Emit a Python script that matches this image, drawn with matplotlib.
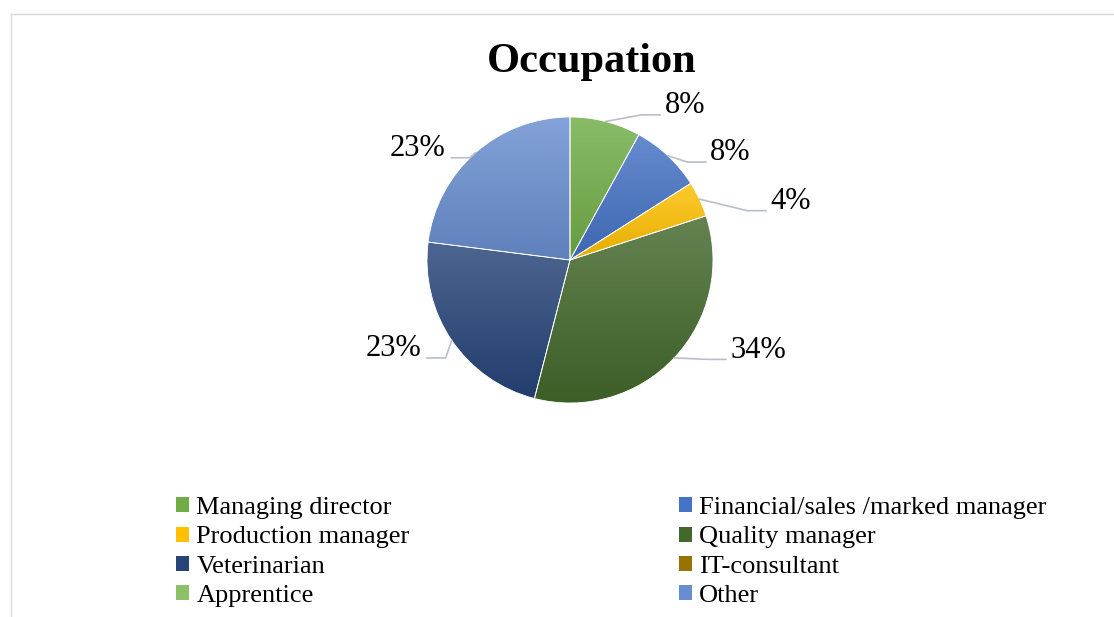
import numpy as np
import matplotlib.pyplot as plt
from matplotlib.colors import to_rgb
from matplotlib.patches import Patch
from matplotlib.lines import Line2D

occupations = ["Managing director", "Financial/sales /marked manager", "Production manager",
               "Quality manager", "Veterinarian", "IT-consultant", "Apprentice", "Other"]
shares = [8, 8, 4, 34, 23, 0, 0, 23]
colors = ["#70AD47", "#4472C4", "#FFC000", "#43682B", "#264478", "#997300", "#8CC168", "#698ED0"]
# where the % labels sit (in pie radii), like the excel "best fit" layout
label_pos = [(0.66, 1.08), (0.98, 0.75), (1.40, 0.41), (1.12, -0.63),
             (-1.04, -0.62), None, None, (-0.87, 0.78)]

plt.rcParams['font.family'] = ['Liberation Serif', 'DejaVu Serif']

W, H = 1114, 617
R = 143  # pie radius in px
fig = plt.figure(figsize=(W / 100, H / 100), dpi=100)

# light chart border (top + left)
fig.add_artist(Line2D([11 / W, 11 / W], [0, 1 - 14 / H], color='#D9D9D9', lw=1))
fig.add_artist(Line2D([11 / W, 1], [1 - 14 / H, 1 - 14 / H], color='#D9D9D9', lw=1))

ax = fig.add_axes([270 / W, (H - 460) / H, 600 / W, 400 / H])
wedges, _ = ax.pie(shares, colors=colors, startangle=90, counterclock=False, radius=1,
                   wedgeprops=dict(edgecolor='white', linewidth=0.6))


def lighten(c, f):
    c = np.array(to_rgb(c))
    return c + (1 - c) * f


# vertical gradient in each slice, lighter on top
g = np.linspace(0, 1, 256)[:, None, None]
for w, c, s in zip(wedges, colors, shares):
    if s == 0:
        continue
    ext = w.get_path().get_extents()
    top = lighten(c, 0.18)
    bot = np.array(to_rgb(c)) * 0.9
    img = top * (1 - g) + bot * g
    im = ax.imshow(img, extent=(ext.x0, ext.x1, ext.y0, ext.y1), origin='upper',
                   aspect='auto', zorder=2, interpolation='bilinear')
    im.set_clip_path(w)
    w.set_facecolor('none')
    w.set_zorder(3)

# percentage labels with leader lines
for w, s, pos in zip(wedges, shares, label_pos):
    if pos is None:
        continue
    mid = np.deg2rad((w.theta1 + w.theta2) / 2)
    sx, sy = np.cos(mid), np.sin(mid)
    tx, ty = pos
    right = tx > 0
    ex = tx - 0.03 if right else tx + 0.04
    ey = ty - 0.065
    elx = ex - 0.13 if right else ex + 0.13
    ax.plot([sx, elx, ex], [sy, ey, ey], color='#B8BFCA', lw=1.2, zorder=4, clip_on=False)
    ax.text(tx, ty, f"{s}%", ha='left' if right else 'right', va='center',
            fontsize=22, color='black', zorder=5, clip_on=False)

ax.set_aspect('equal')
ax.set_xlim(-300 / R, 300 / R)
ax.set_ylim(-200 / R, 200 / R)
ax.axis('off')

fig.text(592 / W, 1 - 62 / H, "Occupation", ha='center', va='center',
         fontsize=30.5, fontweight='bold')

# excel fills the legend row by row, matplotlib column by column
order = [0, 2, 4, 6, 1, 3, 5, 7]
handles = [Patch(facecolor=colors[i]) for i in order]
labels = [occupations[i] for i in order]
fig.legend(handles, labels, loc='upper left', bbox_to_anchor=(176 / W, 1 - 497 / H),
           ncol=2, frameon=False, prop={'size': 19}, handlelength=0.5, handleheight=0.5,
           handletextpad=0.27, columnspacing=10.2, labelspacing=0.28,
           borderpad=0, borderaxespad=0)

fig.savefig('out.png', dpi=100)
